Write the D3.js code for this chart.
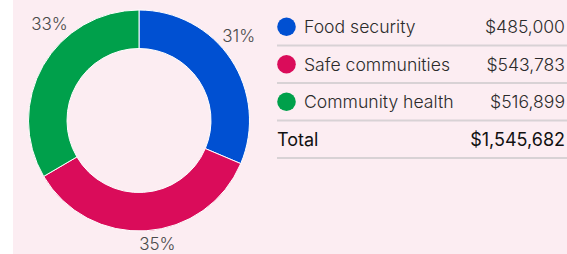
<!DOCTYPE html>
<html><head><meta charset="utf-8">
<script src="https://cdn.jsdelivr.net/npm/d3@7"></script>
<style>
html,body{margin:0;padding:0;background:#fff;}
svg{display:block;}
text{font-family:Inter,"Noto Sans",sans-serif;}
</style></head>
<body>
<svg id="c" width="567" height="254"></svg>
<script>
const categories = ["Food security", "Safe communities", "Community health"];
const values = [485000, 543783, 516899];
const percentLabels = ["31%", "35%", "33%"];
const valueLabels = ["$485,000", "$543,783", "$516,899"];
const totalLabel = "Total";
const totalValue = "$1,545,682";
const colors = ["#0050d2", "#da0c5a", "#00a04b"];

const svg = d3.select("#c");
svg.append("rect").attr("x", 13).attr("y", 0).attr("width", 554).attr("height", 254).attr("fill", "#fcedf2");

const cx = 139, cy = 120.5, R = 110.5, r = 72;
const g = svg.append("g").attr("transform", `translate(${cx},${cy})`);
const pie = d3.pie().sort(null).value(d => d)(values);
const arc = d3.arc().innerRadius(r).outerRadius(R);
g.selectAll("path").data(pie).enter().append("path")
  .attr("d", arc).attr("fill", (d, i) => colors[i])
  .attr("stroke", "#fff").attr("stroke-width", 1);

// percent labels
const labelOffsets = [[-7, -14], [10, -4], [21.5, -33]];
const labelArc = d3.arc().innerRadius(128).outerRadius(128);
g.selectAll("text.pct").data(pie).enter().append("text")
  .attr("class", "pct")
  .attr("x", (d, i) => labelArc.centroid(d)[0] + labelOffsets[i][0])
  .attr("y", (d, i) => labelArc.centroid(d)[1] + labelOffsets[i][1])
  .attr("text-anchor", "middle").attr("dominant-baseline", "central")
  .attr("font-size", 17).attr("font-weight", 300).attr("fill", "#4a4a4a")
  .text((d, i) => percentLabels[i]);

// legend table
const rowY = d3.scaleBand().domain(d3.range(4)).range([8, 158]);
const lx0 = 277, lx1 = 567;
const fs = 17.6;
const leg = svg.append("g");
categories.forEach((c, i) => {
  const yc = rowY(i) + rowY.bandwidth() / 2;
  leg.append("circle").attr("cx", lx0 + 9.5).attr("cy", yc).attr("r", 9.3).attr("fill", colors[i]);
  leg.append("text").attr("x", 304).attr("y", yc).attr("dominant-baseline", "central")
    .attr("font-size", fs).attr("font-weight", 300).attr("fill", "#2b2b2b").text(c);
  leg.append("text").attr("x", 565).attr("y", yc).attr("text-anchor", "end").attr("dominant-baseline", "central")
    .attr("font-size", fs).attr("font-weight", 300).attr("fill", "#2b2b2b").text(valueLabels[i]);
});
const ty = rowY(3) + rowY.bandwidth() / 2;
leg.append("text").attr("x", 277).attr("y", ty).attr("dominant-baseline", "central")
  .attr("font-size", 18).attr("font-weight", 400).attr("fill", "#111").text(totalLabel);
leg.append("text").attr("x", 565).attr("y", ty).attr("text-anchor", "end").attr("dominant-baseline", "central")
  .attr("font-size", 18).attr("font-weight", 400).attr("fill", "#111").text(totalValue);
d3.range(4).forEach(i => {
  const y = rowY(i) + rowY.bandwidth();
  leg.append("line").attr("x1", lx0).attr("x2", lx1).attr("y1", y).attr("y2", y)
    .attr("stroke", "#d8d2d5").attr("stroke-width", 2);
});
</script>
</body></html>
